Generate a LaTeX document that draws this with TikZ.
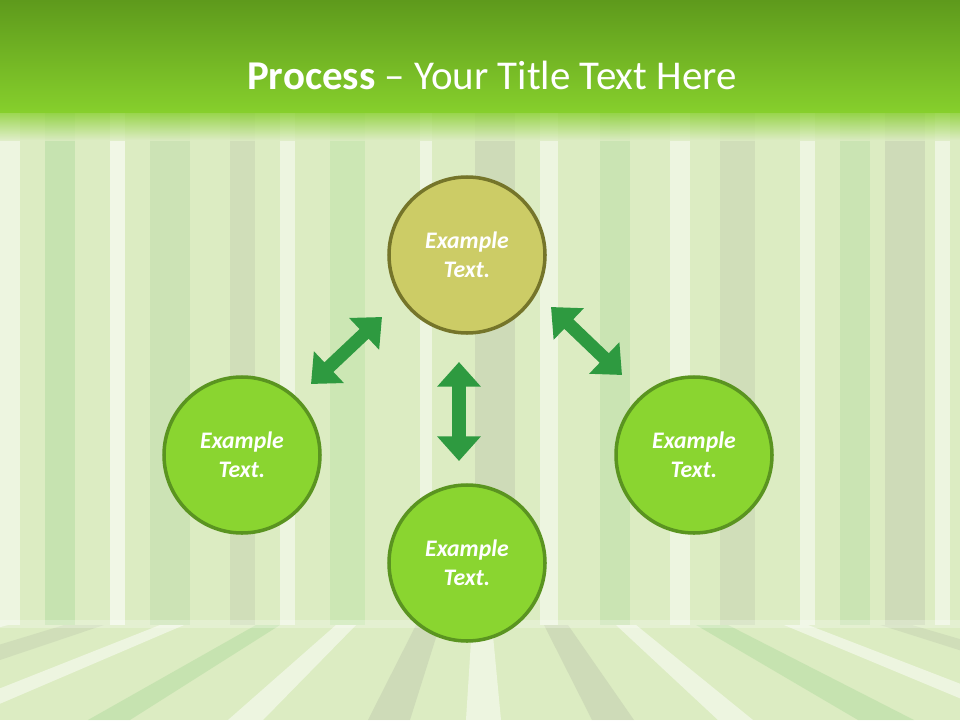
\documentclass[tikz,border=0pt]{standalone}
\usepackage{fontspec}
\setmainfont{Carlito}
\usetikzlibrary{arrows.meta}
\definecolor{bg}{HTML}{DCECC2}
\definecolor{topg}{HTML}{5E9A1C}
\definecolor{midg}{HTML}{86CF2C}
\definecolor{olive}{HTML}{CCCC66}
\definecolor{oliveb}{HTML}{75752A}
\definecolor{leaf}{HTML}{8AD530}
\definecolor{leafb}{HTML}{5A9420}
\definecolor{arr}{HTML}{2E9A40}
\newdimen\pgfunitx \pgfunitx=0.02cm
\tikzset{
 circ/.style={circle,minimum size=156\pgfunitx,line width=2pt,draw=leafb,fill=leaf,text=white,font=\bfseries\itshape\fontsize{13.5}{16.5}\selectfont,align=center,inner sep=0pt},
 circo/.style={circ,draw=oliveb,fill=olive},
 dbl/.style={arr,line width=7.5pt,{Triangle[width=24pt,length=14pt]}-{Triangle[width=24pt,length=14pt]}}
}
\begin{document}
\begin{tikzpicture}[x=0.02cm,y=-0.02cm]
\useasboundingbox (0,0) rectangle (960,720);
\fill[bg] (0,0) rectangle (960,720);
\foreach \x/\w/\c/\o in {0/20/white/0.5,45/30/green!40!gray/0.15,110/15/white/0.6,150/40/green!30!gray/0.12,230/25/gray/0.12,280/15/white/0.5,330/35/green!50!gray/0.1,420/12/white/0.5,475/40/gray/0.15,540/18/white/0.5,600/30/green!40!gray/0.12,670/20/white/0.5,720/35/gray/0.12,800/15/white/0.5,840/30/green!40!gray/0.12,885/40/gray/0.15,935/15/white/0.5}
 \fill[\c,opacity=\o] (\x,110) rectangle (\x+\w,625);
\foreach \x/\w/\c/\o in {-150/40/white/0.5,-40/50/gray/0.12,80/30/white/0.5,200/30/green!40!gray/0.15,300/25/white/0.5,400/30/gray/0.15,470/25/white/0.5,560/30/gray/0.15,650/25/white/0.5,750/40/green!40!gray/0.15,860/30/white/0.5,980/40/gray/0.12,1080/40/white/0.5}
 \fill[\c,opacity=\o] (\x*0.8+96,625) -- (\x*0.8+96+\w*0.8,625) -- (\x*1.4-192+\w*1.4,720) -- (\x*1.4-192,720) -- cycle;
\fill[white,opacity=0.25] (0,620) rectangle (960,628);
\shade[top color=topg,bottom color=midg] (0,0) rectangle (960,112);
\shade[top color=midg,bottom color=bg,opacity=0.8] (0,112) rectangle (960,140);
\node[text=white,font=\fontsize{23.3}{28}\selectfont] (title) at (492,75) {\textbf{Process} – Your Title Text Here};
\node[circo] (t) at (467,255) {Example\\Text.};
\node[circ] (l) at (242,455) {Example\\Text.};
\node[circ] (r) at (694,455) {Example\\Text.};
\node[circ] (b) at (467,563) {Example\\Text.};
\coordinate (a1) at (311,384); \coordinate (a2) at (382,317);
\coordinate (b1) at (551,307); \coordinate (b2) at (622,375);
\coordinate (c1) at (459,362); \coordinate (c2) at (459,461);
\draw[dbl] (a1) -- (a2);
\draw[dbl] (b1) -- (b2);
\draw[dbl] (c1) -- (c2);
\end{tikzpicture}
\end{document}
